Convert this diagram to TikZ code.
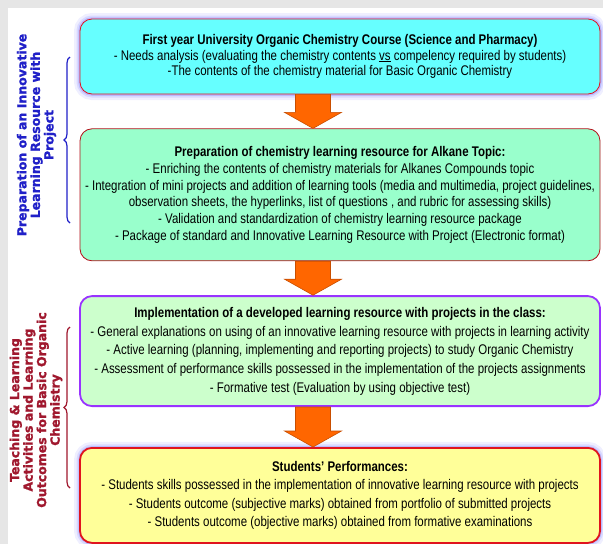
\documentclass[tikz,border=0pt]{standalone}
\usepackage{fontspec}
\newfontfamily\narrowfont{Liberation Sans}[FakeStretch=0.82]
\newfontfamily\widefont{DejaVu Sans}[BoldFeatures={FakeBold=1.4}]
\usetikzlibrary{positioning,calc,decorations.pathreplacing}

\definecolor{pagegrey}{HTML}{E6E6E6}
\definecolor{cyanfill}{HTML}{66FFFF}
\definecolor{mintfill}{HTML}{99FFCC}
\definecolor{palegreen}{HTML}{CCFFCC}
\definecolor{paleyellow}{HTML}{FFFF99}
\definecolor{boxred}{HTML}{E0141E}
\definecolor{boxpurple}{HTML}{9933FF}
\definecolor{glowblue}{HTML}{6A6AFF}
\definecolor{arrowfill}{HTML}{FF6600}
\definecolor{arrowline}{HTML}{C84E00}
\definecolor{labelblue}{HTML}{2020C8}
\definecolor{labelred}{HTML}{A0182E}

\tikzset{
  stagebox/.style={rounded corners=12pt, minimum width=520pt, align=center,
    inner sep=4pt, font=\narrowfont\fontsize{14}{16.7}\selectfont},
  glow/.style={preaction={draw=glowblue, line width=12pt, draw opacity=0.10},
    preaction={draw=glowblue, line width=7pt, draw opacity=0.16},
    preaction={draw=glowblue, line width=3.5pt, draw opacity=0.28}},
  sidelabel/.style={rotate=90, align=center,
    font=\widefont\bfseries\fontsize{12.5}{13.5}\selectfont},
  blockarrow/.style={fill=arrowfill, draw=arrowline, line width=0.6pt},
  sidebrace/.style={decorate, decoration={brace, amplitude=6pt}, line width=1.2pt},
}

% block arrow between two stacked boxes
\newcommand\stagearrow[2]{%
  \path[blockarrow] let \p1=(#1.south), \p2=(#2.north) in
    (\x1-44.5pt,\y1) -- (\x1-9.5pt,\y1) -- (\x1-9.5pt,\y2+16pt) -- (\x1+1.5pt,\y2+16pt)
    -- (\x1-27pt,\y2) -- (\x1-55.5pt,\y2+16pt) -- (\x1-44.5pt,\y2+16pt) -- cycle;}

\begin{document}
\begin{tikzpicture}[x=1pt, y=-1pt]
    \useasboundingbox (0,0) rectangle (603,544);
    \fill[pagegrey] (0,0) rectangle (603,544);
    \fill[white] (8,8) rectangle (603,544);

    % the four stages
    \node[stagebox, glow, draw=boxred, line width=0.8pt, fill=cyanfill, minimum height=75pt,
      font=\narrowfont\fontsize{14}{15.5}\selectfont] (course) at (340,56.5)
      {\textbf{First year University Organic Chemistry Course (Science and  Pharmacy)}\\
       - Needs analysis (evaluating the chemistry contents \underline{vs} compelency required by students)\\
       -The contents of the chemistry material  for Basic Organic Chemistry};
    \node[stagebox, draw=boxred!80!black, line width=0.8pt, fill=mintfill, minimum height=132pt,
      below=34pt of course] (prep)
      {\textbf{Preparation of chemistry learning resource for Alkane Topic:}\\
       - Enriching the contents of chemistry materials for Alkanes Compounds topic\\
       - Integration of mini projects  and addition of learning tools (media and multimedia, project  guidelines,\\
       observation sheets, the hyperlinks, list of questions , and rubric for assessing skills)\\
       - Validation and standardization of chemistry learning resource package\\
       - Package of standard and Innovative Learning Resource with Project (Electronic format)};
    \node[stagebox, draw=boxpurple, line width=1.8pt, fill=palegreen, minimum height=110pt,
      font=\narrowfont\fontsize{14}{18.7}\selectfont, below=34pt of prep] (impl)
      {\textbf{Implementation of a developed learning resource with projects in the class:}\\
       - General explanations on using of an innovative learning resource with projects in learning activity\\
       - Active learning (planning, implementing and reporting projects) to study Organic Chemistry\\
       - Assessment of performance skills possessed in the implementation of the projects  assignments\\
       -  Formative test  (Evaluation by using objective test)};
    \node[stagebox, glow, draw=boxred, line width=1.8pt, fill=paleyellow, minimum height=95pt,
      font=\narrowfont\fontsize{14}{18.5}\selectfont, below=40pt of impl] (perf)
      {\textbf{Students’ Performances:}\\
       - Students skills possessed in the implementation of innovative learning resource with projects\\
       - Students outcome (subjective marks) obtained from portfolio of submitted projects\\
       - Students outcome (objective marks) obtained from formative examinations};

    \stagearrow{course}{prep}
    \stagearrow{prep}{impl}
    \stagearrow{impl}{perf}

    % side labels
    \node[sidelabel, text=labelblue] (preplabel) at (36.5,135)
      {Preparation of an Innovative\\Learning Resource with\\Project};
    \draw[sidebrace, labelblue] (70,223) -- (70,57);
    \node[sidelabel, text=labelred] (teachlabel) at (36,410)
      {Teaching \& Learning\\Activities  and Learning\\Outcomes for Basic Organic\\Chemistry};
    \draw[sidebrace, labelred] (70,488) -- (70,327);
\end{tikzpicture}
\end{document}
